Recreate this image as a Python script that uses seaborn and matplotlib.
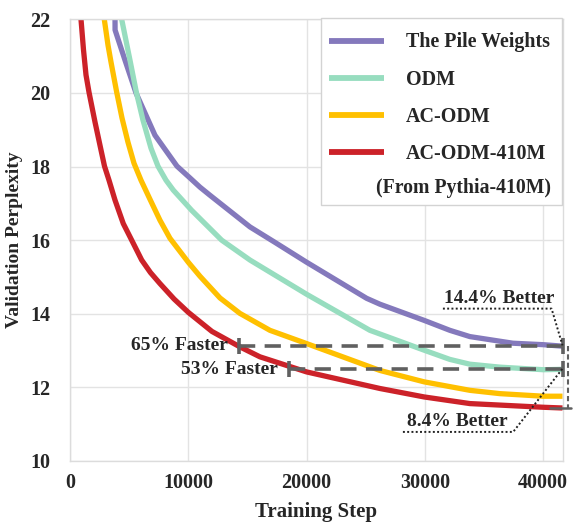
import matplotlib
matplotlib.use("Agg")
import matplotlib.pyplot as plt
from matplotlib.lines import Line2D
from matplotlib.patches import Rectangle
import seaborn as sns
import pandas as pd

# ---------------- data ----------------
pile_steps = [3803, 3810, 4648, 5578, 7183, 9043, 10141, 10986, 11831, 15212, 17325,
              20003, 25074, 26198, 29942, 32113, 33804, 37438, 40000, 41637]
pile_vals = [22.25, 21.71, 20.89, 20.00, 18.85, 18.01, 17.69, 17.44, 17.22, 16.36, 15.94,
             15.40, 14.42, 14.26, 13.82, 13.55, 13.38, 13.20, 13.16, 13.12]

odm_steps = [4335, 4369, 5070, 5620, 6169, 6845, 7437, 8113, 8730, 10285, 12820, 15212,
             19437, 20003, 25353, 29942, 32113, 33804, 36339, 40000, 41637]
odm_vals = [22.25, 22.00, 20.89, 20.00, 19.26, 18.50, 18.01, 17.63, 17.36, 16.81, 16.00,
            15.46, 14.64, 14.53, 13.55, 13.01, 12.76, 12.63, 12.55, 12.48, 12.49]

acodm_steps = [2873, 2899, 3211, 3465, 3947, 4395, 4902, 5409, 6000, 6761, 7606, 8451,
               9997, 10986, 12677, 14367, 16902, 20003, 26198, 29942, 33804, 36339,
               40000, 41637]
acodm_vals = [22.25, 22.00, 21.30, 20.84, 20.02, 19.32, 18.66, 18.09, 17.63, 17.11, 16.54,
              16.05, 15.40, 15.02, 14.43, 14.01, 13.55, 13.19, 12.46, 12.15, 11.92, 11.83,
              11.76, 11.76]

ac410_steps = [862, 930, 1141, 1352, 1606, 2113, 2620, 2916, 3296, 3803, 4504, 5214,
               6059, 6800, 7606, 8800, 9997, 12000, 14367, 16057, 20003, 26198, 29942,
               33804, 40000, 41637]
ac410_vals = [22.25, 22.00, 21.17, 20.49, 20.02, 19.21, 18.45, 18.01, 17.63, 17.09, 16.45,
              16.00, 15.46, 15.12, 14.82, 14.40, 14.04, 13.52, 13.10, 12.83, 12.42, 11.97,
              11.74, 11.56, 11.46, 11.44]

series_names = ["The Pile Weights", "ODM", "AC-ODM", "AC-ODM-410M"]
series_colors = ["#8479BC", "#97DDBF", "#FFC000", "#CC2229"]
legend_note = "(From Pythia-410M)"

x_ticks = [0, 10000, 20000, 30000, 40000]
y_ticks = [10, 12, 14, 16, 18, 20, 22]

faster_labels = ["65% Faster", "53% Faster"]
faster_start = [14310, 18540]
faster_level = [13.13, 12.49]
better_labels = ["14.4% Better", "8.4% Better"]
end_red = 11.44

# ---------------- figure ----------------
sns.set_style("white")
FAM = ["Liberation Serif", "DejaVu Serif"]
plt.rcParams["font.family"] = FAM
plt.rcParams["font.weight"] = "bold"

W, H = 573, 522
fig = plt.figure(figsize=(W / 100, H / 100), dpi=100)
ax = fig.add_axes([70 / W, 1 - 461 / H, (562.7 - 70) / W, (461 - 19.3) / H])

rows = []
for name, xs, ys in zip(series_names,
                        [pile_steps, odm_steps, acodm_steps, ac410_steps],
                        [pile_vals, odm_vals, acodm_vals, ac410_vals]):
    for x, y in zip(xs, ys):
        rows.append({"step": x, "ppl": y, "series": name})
df = pd.DataFrame(rows)

sns.lineplot(data=df, x="step", y="ppl", hue="series", hue_order=series_names,
             palette=series_colors, estimator=None, sort=False, linewidth=3.8,
             legend=False, ax=ax)
for ln in ax.lines:
    ln.set_solid_capstyle("butt")
    ln.set_solid_joinstyle("round")

ax.set_xlim(0, 41650)
ax.set_ylim(10, 22)
ax.set_xticks(x_ticks)
ax.set_yticks(y_ticks)
ax.tick_params(axis="both", length=0, labelsize=14.5)
ax.tick_params(axis="x", pad=9)
ax.tick_params(axis="y", pad=14)
for lab in ax.get_xticklabels() + ax.get_yticklabels():
    lab.set_fontweight("bold")
    lab.set_family(FAM)
ax.grid(True, color="#E3E3E3", linewidth=1.0)
for sp in ax.spines.values():
    sp.set_color("#DCDCDC")
    sp.set_linewidth(1.0)
ax.set_xlabel("Training Step", fontsize=15, fontweight="bold", family=FAM, labelpad=6)
ax.set_ylabel("Validation Perplexity", fontsize=14, fontweight="bold", family=FAM,
              labelpad=5)

# ---------------- annotations ----------------
dash_col = "#606060"
bracket_x = 42100
for lab, xs, lvl in zip(faster_labels, faster_start, faster_level):
    ax.plot([xs, 42380], [lvl, lvl], color=dash_col, lw=2.6, ls=(0, (4.5, 2.6)),
            clip_on=False, zorder=5)
    ax.plot([xs], [lvl], marker="|", ms=11, mew=2.6, color=dash_col, zorder=6,
            clip_on=False)
    ax.plot([41637], [lvl], marker="|", ms=11, mew=2.6, color=dash_col, zorder=6,
            clip_on=False)
    ax.text(xs - 950, lvl, lab, ha="right", va="center", fontsize=14,
            fontweight="bold", family=FAM, zorder=7)

ax.plot([bracket_x, bracket_x], [faster_level[0], end_red], color=dash_col, lw=1.5,
        ls=(0, (2.5, 1.5)), clip_on=False, zorder=5)
ax.plot([40560, 42390], [end_red, end_red], color=dash_col, lw=1.8, clip_on=False,
        zorder=5)

# 14.4% Better
ax.text(31600, 14.42, better_labels[0], ha="left", va="center", fontsize=14,
        fontweight="bold", family=FAM, zorder=7)
ax.plot([31523, 40708, 41637], [14.14, 14.14, 13.14], color="#222222", lw=1.4,
        ls=(0, (1, 1.2)), clip_on=False, zorder=6)
# 8.4% Better
ax.text(28480, 11.06, better_labels[1], ha="left", va="center", fontsize=14,
        fontweight="bold", family=FAM, zorder=7)
ax.plot([28142, 37463, 41637], [10.79, 10.79, 12.51], color="#222222", lw=1.4,
        ls=(0, (1, 1.2)), clip_on=False, zorder=6)

# ---------------- legend ----------------
box = Rectangle((321 / W, 1 - 205 / H), (561.7 - 321) / W, (205 - 18.3) / H,
                transform=fig.transFigure, facecolor="white", edgecolor="#D3D3D3",
                linewidth=1.0, zorder=4)
fig.patches.append(box)

handles = [Line2D([0], [0], color=c, lw=4.2, solid_capstyle="butt") for c in series_colors]
leg = fig.legend(handles, series_names, loc="upper left",
                 bbox_to_anchor=(329 / W, 1 - 32.5 / H), bbox_transform=fig.transFigure,
                 prop={"weight": "bold", "size": 14.4, "family": FAM}, handlelength=2.75,
                 handletextpad=1.08, labelspacing=0.86, borderpad=0, borderaxespad=0,
                 frameon=False)
leg.set_zorder(5)
fig.text(375.7 / W, 1 - 187.5 / H, legend_note, ha="left", va="center", fontsize=14.2,
         fontweight="bold", family=FAM, zorder=6)

fig.savefig("out.png", dpi=100)
